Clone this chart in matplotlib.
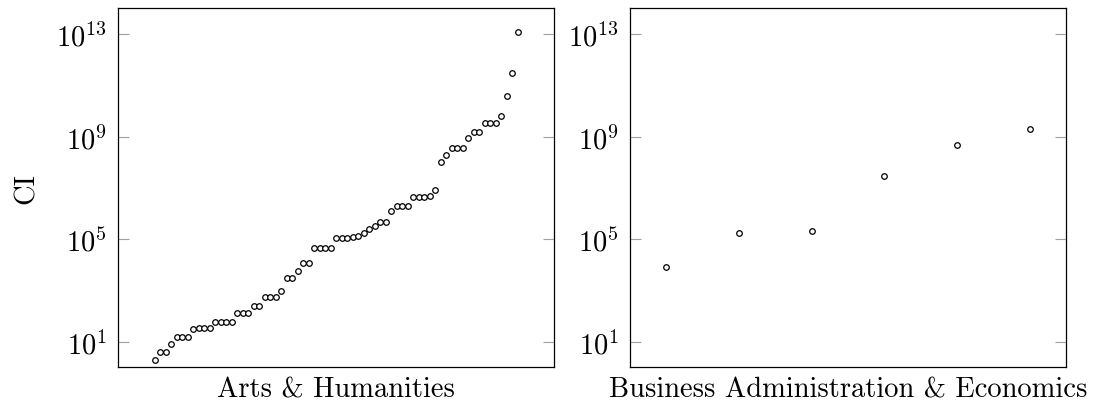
"""Gráficos de dispersão em escala log do CI por área"""
import matplotlib
matplotlib.use("Agg")
from matplotlib import pyplot as plt
from matplotlib.ticker import NullLocator

plt.rcParams["font.family"] = "serif"
plt.rcParams["font.serif"] = ["cmr10"]
plt.rcParams["mathtext.fontset"] = "cm"
plt.rcParams["axes.formatter.use_mathtext"] = True

# valores de CI ordenados, um por item
arts_ci = [2, 4, 4, 8, 15, 15, 15, 30, 35, 35, 35, 60, 60, 60, 60,
           135, 135, 135, 245, 245, 550, 550, 550, 970, 2950, 2950,
           5800, 12000, 12000, 45000, 45000, 45000, 45000,
           1.1e5, 1.1e5, 1.1e5, 1.2e5, 1.3e5, 1.8e5, 2.4e5, 3.2e5,
           4.7e5, 4.7e5, 1.2e6, 1.9e6, 1.9e6, 1.9e6,
           4.3e6, 4.3e6, 4.3e6, 4.8e6, 8e6, 9.8e7, 1.9e8,
           3.7e8, 3.7e8, 3.7e8, 9e8, 1.5e9, 1.5e9,
           3.4e9, 3.4e9, 3.4e9, 6.3e9, 3.7e10, 3e11, 1.2e13]
business_ci = [8e3, 1.7e5, 2e5, 3e7, 4.6e8, 2e9]

paineis = [("Arts & Humanities", arts_ci),
           ("Business Administration & Economics", business_ci)]

fig = plt.figure(figsize=(10.93, 4.06), dpi=100)
posicoes = [[0.1082, 0.0929, 0.3989, 0.8842],
            [0.5764, 0.0929, 0.3989, 0.8842]]

for (nome, valores), pos in zip(paineis, posicoes):
    ax = fig.add_axes(pos)
    xs = list(range(1, len(valores) + 1))
    ax.plot(xs, valores, linestyle="none", marker="o", markersize=4,
            markerfacecolor="white", markeredgecolor="black",
            markeredgewidth=0.9)
    ax.set_yscale("log")
    ax.set_ylim(1, 1e14)
    # margem de 10% da faixa em cada lado, como no pgfplots
    margem = 0.1 * (len(valores) - 1)
    ax.set_xlim(1 - margem, len(valores) + margem)
    ax.set_yticks([1e1, 1e5, 1e9, 1e13])
    ax.yaxis.set_minor_locator(NullLocator())
    ax.xaxis.set_major_locator(NullLocator())
    ax.tick_params(axis="y", direction="in", left=True, right=True,
                   length=8, width=0.8, color="#a0a0a0",
                   labelsize=20.5, pad=8)
    for spine in ax.spines.values():
        spine.set_linewidth(0.9)
    ax.set_xlabel(nome, fontsize=20.5, labelpad=6.5)

fig.axes[0].set_ylabel("CI", fontsize=20.5, labelpad=12)

plt.savefig("out.png", dpi=100)
